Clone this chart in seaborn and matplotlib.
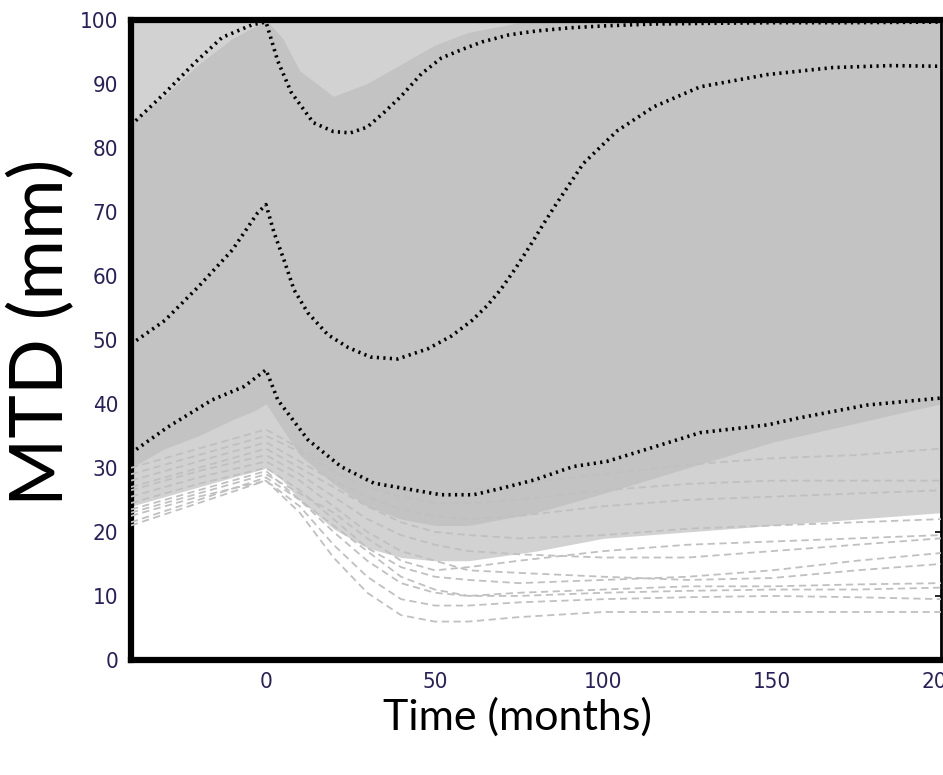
import numpy as np
import pandas as pd
import matplotlib
matplotlib.use("Agg")
import matplotlib.pyplot as plt
import seaborn as sns

# ---------------- data ----------------
# percentile curves (black dotted)
upper_x = [-40, -30, -21, -13, -4, 0, 3.5, 7.5, 14, 20, 25, 30, 35, 40, 46, 52, 58, 64, 72, 80, 90, 100, 115, 130, 150, 172, 200]
upper_y = [83.5, 88.5, 93.3, 97.2, 99.2, 99.6, 93.5, 88.6, 83.9, 82.5, 82.3, 83.2, 85.5, 88.0, 91.5, 94.0, 95.3, 96.5, 97.6, 98.2, 98.7, 99.0, 99.3, 99.4, 99.5, 99.5, 99.6]

median_x = [-40, -30, -20, -10, -2.5, 0, 2.4, 5.3, 8.3, 12.4, 18.3, 24.3, 31, 39, 48, 55, 61, 65.5, 69.5, 74, 78.4, 82, 86, 94, 104, 115, 128.7, 148.5, 168, 185, 200]
median_y = [49.3, 53.0, 58.3, 64.0, 69.8, 71.1, 66.7, 62.5, 57.8, 54.2, 50.8, 48.8, 47.3, 47.0, 48.6, 50.6, 53.0, 55.3, 57.8, 61.2, 64.8, 67.9, 71.2, 77.5, 82.6, 86.4, 89.5, 91.4, 92.5, 92.8, 92.7]

lower_x = [-40, -29, -16, -6.5, 0, 3.5, 12.4, 22.2, 32, 43, 51.8, 61.5, 70.5, 79.4, 91, 101, 114, 128.7, 148.5, 158, 178, 200]
lower_y = [32.3, 36.4, 40.6, 42.7, 45.3, 40.6, 34.4, 30.2, 27.6, 26.6, 25.8, 25.8, 26.9, 28.1, 30.2, 31.0, 33.1, 35.5, 36.7, 37.8, 39.8, 40.9]

# envelopes of the grey bundle of individual trajectories
env_x = [-40, -30, -20, -10, -3, 0, 5, 10, 20, 30, 40, 50, 60, 80, 100, 125, 150, 175, 200]
sparse_low = [24, 25.5, 27, 28.5, 29.5, 30, 28, 25, 20.5, 17.5, 16, 15.5, 15.5, 17, 19, 20, 21, 22, 23]
dense_low = [30, 33, 35, 37.5, 39, 40, 36, 32, 27.5, 24, 22, 21, 21, 23, 26, 30, 34, 37, 40]
dense_high = [84, 88, 93, 97, 99, 100, 97, 92, 88, 90, 93, 96, 98, 100, 100, 100, 100, 100, 100]
top = [100] * len(env_x)

# a few individual trajectories in the sparse lower part
traj_x = [-40, -20, 0, 10, 20, 30, 40, 50, 60, 75, 100, 125, 150, 175, 200]
traj = {
    "t1": [21, 24.5, 28, 23, 16, 10.5, 7, 6, 6, 6.7, 7.5, 7.5, 7.5, 7.5, 7.5],
    "t2": [22.5, 25.5, 28, 24, 18, 13, 9.5, 8.5, 8.5, 9, 9.5, 9.8, 10, 9.8, 9.5],
    "t3": [23.5, 26.5, 29.5, 25, 20, 15.5, 12, 10.5, 10, 10.5, 11, 11.5, 11.5, 11.8, 12],
    "t4": [24.5, 27.5, 30, 26.5, 22, 17.5, 14.5, 13, 12.5, 12, 12.5, 13, 14, 15.5, 16.7],
    "t5": [25.5, 28.5, 31, 28, 24, 20, 17, 15.5, 14, 13.6, 13, 12.5, 12.8, 14, 15],
    "t6": [26.5, 29.5, 32, 29, 25.5, 22, 19.5, 18, 17, 16.5, 16, 16, 17, 18, 19],
    "t7": [27, 30, 33, 30, 27, 24, 21.5, 20, 19.5, 19, 19.5, 20.5, 21, 21.5, 22],
    "t8": [28, 31, 34, 31, 28, 25.5, 23.5, 22.5, 22, 22.5, 24, 25, 25.5, 26, 26.5],
    "t9": [29, 32, 35, 32.5, 29.5, 27, 25.5, 24.5, 24.5, 25, 26.5, 27.5, 28, 28, 28],
    "t10": [21.5, 25, 28.5, 25, 21, 17, 13, 11, 10, 10, 10.5, 10.8, 11, 11, 11.3],
    "t11": [30, 33, 36, 33, 30.5, 28, 26.5, 26, 26.5, 27.5, 29, 30.5, 31.5, 32, 33],
    "t12": [23, 26, 29, 26, 23, 19, 15.5, 14, 14.5, 15.5, 17, 18, 18.5, 19, 19.5],
}

x_ticks = [0, 50, 100, 150, 200]
y_ticks = [0, 10, 20, 30, 40, 50, 60, 70, 80, 90, 100]
x_label = "Time (months)"
y_label = "MTD (mm)"

# ---------------- figure ----------------
sns.set_theme(style="white")
plt.rcParams["font.family"] = ["Lato", "DejaVu Sans"]

fig = plt.figure(figsize=(9.43, 7.75), dpi=100)
ax = fig.add_axes([131 / 943, 1 - 660 / 775, (941 - 131) / 943, (660 - 19.5) / 775])

grey = "#c0c0c0"
ax.fill_between(env_x, sparse_low, top, color="#d2d2d2", linewidth=0, zorder=1)
ax.fill_between(env_x, dense_low, dense_high, color="#c3c3c3", linewidth=0, zorder=2)

rows = []
for name, vals in traj.items():
    for xv, yv in zip(traj_x, vals):
        rows.append({"time": xv, "mtd": yv, "id": name})
df_traj = pd.DataFrame(rows)
sns.lineplot(data=df_traj, x="time", y="mtd", units="id", estimator=None,
             color=grey, linewidth=1.3, dashes=False, ax=ax, zorder=3, sort=False)
for line in ax.get_lines():
    line.set_dashes((4, 2.5))

df_q = pd.concat([
    pd.DataFrame({"time": upper_x, "mtd": upper_y, "q": "upper"}),
    pd.DataFrame({"time": median_x, "mtd": median_y, "q": "median"}),
    pd.DataFrame({"time": lower_x, "mtd": lower_y, "q": "lower"}),
])
n_before = len(ax.get_lines())
sns.lineplot(data=df_q, x="time", y="mtd", units="q", estimator=None,
             color="black", linewidth=2.6, ax=ax, zorder=5, sort=False)
for line in ax.get_lines()[n_before:]:
    line.set_linestyle((0, (0.6, 1.2)))
    line.set_dash_capstyle("butt")

ax.set_xlim(-40, 200)
ax.set_ylim(0, 100)
ax.set_xticks(x_ticks)
ax.set_yticks(y_ticks)
tick_kw = dict(family=["DejaVu Sans", "Liberation Sans"], fontstretch="condensed",
               fontsize=16, color="#28205a")
ax.set_xticklabels([str(t) for t in x_ticks], **tick_kw)
ax.set_yticklabels([str(t) for t in y_ticks], **tick_kw)
ax.tick_params(axis="both", which="both", direction="in", length=4, width=1.2,
               color="black", top=True, right=True, pad=9)

for side in ["left", "bottom", "top"]:
    ax.spines[side].set_linewidth(4.5)
    ax.spines[side].set_color("black")
ax.spines["right"].set_linewidth(2.0)
ax.spines["right"].set_color("black")
ax.grid(False)

ax.set_xlabel(x_label, fontsize=31, color="black")
ax.set_ylabel(y_label, fontsize=53, color="black")
ax.xaxis.label.set_rotation_mode("default")
ax.xaxis.label.set_verticalalignment("center")
ax.yaxis.label.set_rotation_mode("default")
ax.yaxis.label.set_verticalalignment("center")
ax.yaxis.label.set_horizontalalignment("center")
ax.xaxis.set_label_coords(517 / 943, 1 - 717 / 775, transform=fig.transFigure)
ax.yaxis.set_label_coords(42 / 943, 1 - 332 / 775, transform=fig.transFigure)

fig.savefig("out.png", dpi=100)
